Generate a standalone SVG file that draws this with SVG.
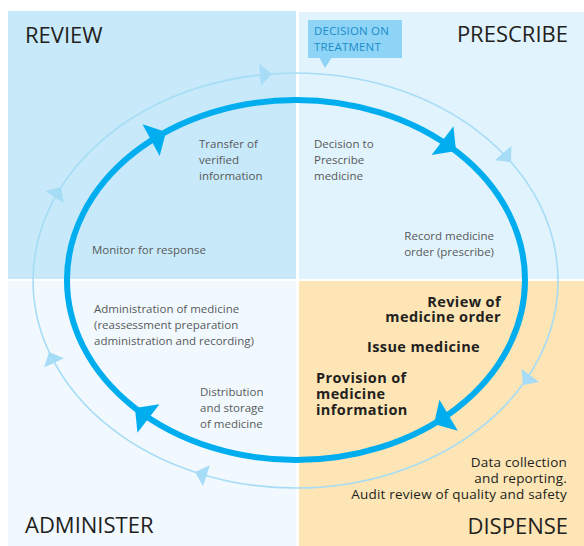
<svg xmlns="http://www.w3.org/2000/svg" width="584" height="546" viewBox="0 0 584 546">
<style>
.title{font-family:"Open Sans","Liberation Sans",sans-serif;font-size:22px;fill:#231f20}
.sm{font-family:"Open Sans","Liberation Sans",sans-serif;font-size:11.5px;fill:#58595b}
.bd{font-family:"Open Sans","Liberation Sans",sans-serif;font-size:14.5px;font-weight:bold;fill:#231f20;letter-spacing:0.4px}
.md{font-family:"Open Sans","Liberation Sans",sans-serif;font-size:13.5px;fill:#231f20;letter-spacing:0.2px}
.box{font-family:"Open Sans","Liberation Sans",sans-serif;font-size:11.5px;fill:#1c8ccb;letter-spacing:0.2px}
.thick{fill:#00aeef}
.thin{fill:#a6dcf6}
</style>
<defs>
<polygon id="ah" points="0,0 -17,-18 -17,18"/>
<polygon id="at" points="0,0 -12,-11 -12,11"/>
</defs>
<rect width="584" height="546" fill="#ffffff"/>
<g id="review"><rect x="8" y="11" width="288" height="268" fill="#c7e9f9"/><text class="title" x="25" y="43">REVIEW</text></g>
<g id="prescribe"><rect x="299" y="12" width="285" height="267" fill="#e1f3fc"/><text class="title" x="568" y="42" text-anchor="end">PRESCRIBE</text></g>
<g id="administer"><rect x="8" y="281" width="288" height="265" fill="#f1f9fe"/><text class="title" x="25" y="533">ADMINISTER</text></g>
<g id="dispense"><rect x="299" y="281" width="285" height="265" fill="#fde5b5"/><text class="title" x="568" y="534" text-anchor="end">DISPENSE</text></g>
<g id="connectors">
<ellipse cx="295.5" cy="280.5" rx="262.5" ry="207.5" fill="none" stroke="#a6dcf6" stroke-width="1.6"/>
<ellipse cx="296" cy="280" rx="229" ry="180" fill="none" stroke="#00aeef" stroke-width="6"/>
<use href="#ah" class="thick" transform="translate(166,132) rotate(-28.5)"/>
<use href="#ah" class="thick" transform="translate(456,151) rotate(37.5)"/>
<use href="#ah" class="thick" transform="translate(434,424) rotate(149.4)"/>
<use href="#ah" class="thick" transform="translate(135,408) rotate(-142.2)"/>
<use href="#at" class="thin" transform="translate(272,74) rotate(-4)"/>
<use href="#at" class="thin" transform="translate(511,162) rotate(49)"/>
<use href="#at" class="thin" transform="translate(523,385) rotate(127)"/>
<use href="#at" class="thin" transform="translate(195,472) rotate(198)"/>
<use href="#at" class="thin" transform="translate(49,352) rotate(-115)"/>
<use href="#at" class="thin" transform="translate(61,187) rotate(-57)"/>
</g>
<g id="decision-box">
<rect x="308" y="20" width="94" height="38" fill="#8dd4f6"/>
<polygon points="319,57 332,57 325,68" fill="#8dd4f6"/>
<text class="box" x="314" y="35">DECISION ON</text>
<text class="box" x="314" y="51">TREATMENT</text>
</g>
<g id="transfer"><text class="sm" x="199" y="148">Transfer of</text><text class="sm" x="199" y="164">verified</text><text class="sm" x="199" y="180">information</text></g>
<g id="monitor"><text class="sm" x="92" y="254">Monitor for response</text></g>
<g id="decision-prescribe"><text class="sm" x="314" y="148">Decision to</text><text class="sm" x="314" y="164">Prescribe</text><text class="sm" x="314" y="180">medicine</text></g>
<g id="record"><text class="sm" x="494" y="240" text-anchor="end">Record medicine</text><text class="sm" x="494" y="256" text-anchor="end">order (prescribe)</text></g>
<g id="administration"><text class="sm" x="94" y="313">Administration of medicine</text><text class="sm" x="94" y="329">(reassessment preparation</text><text class="sm" x="94" y="345">administration and recording)</text></g>
<g id="distribution"><text class="sm" x="200" y="396">Distribution</text><text class="sm" x="200" y="412">and storage</text><text class="sm" x="200" y="428">of medicine</text></g>
<g id="review-order"><text class="bd" x="501" y="307" text-anchor="end">Review of</text><text class="bd" x="501" y="322" text-anchor="end">medicine order</text></g>
<g id="issue"><text class="bd" x="367" y="352">Issue medicine</text></g>
<g id="provision"><text class="bd" x="316" y="383">Provision of</text><text class="bd" x="316" y="399">medicine</text><text class="bd" x="316" y="415">information</text></g>
<g id="data"><text class="md" x="567" y="467" text-anchor="end">Data collection</text><text class="md" x="567" y="483" text-anchor="end">and reporting.</text><text class="md" x="567" y="499" text-anchor="end">Audit review of quality and safety</text></g>
</svg>
